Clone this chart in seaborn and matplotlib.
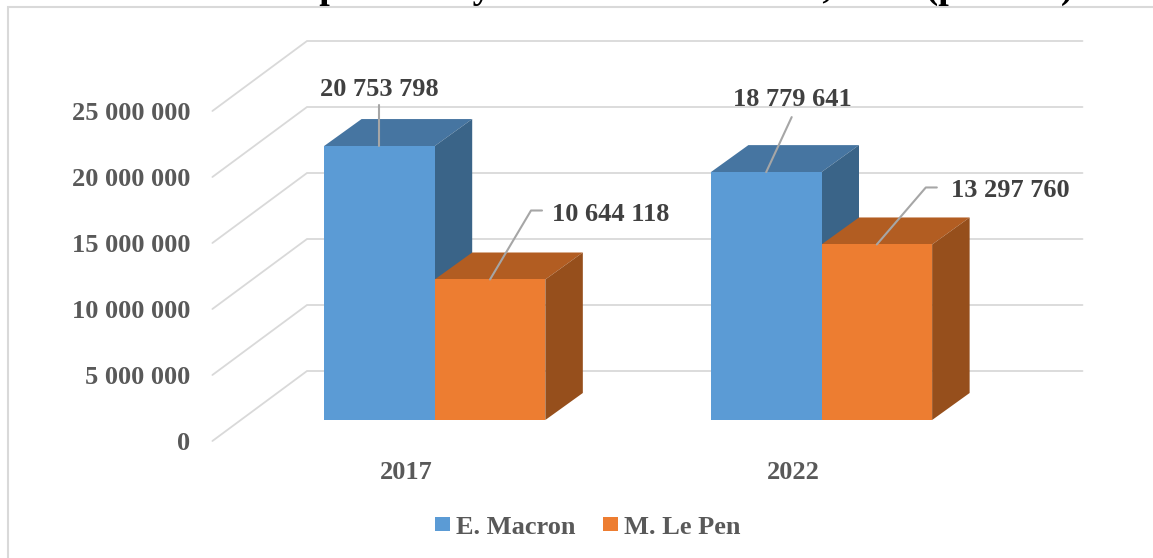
import matplotlib
matplotlib.use('Agg')
import matplotlib.pyplot as plt
from matplotlib.patches import Polygon
import seaborn as sns
import pandas as pd

# --- data ---
years = ['2017', '2022']
macron = [20753798, 18779641]
le_pen = [10644118, 13297760]
series = ['E. Macron', 'M. Le Pen']
y_ticks = [0, 5000000, 10000000, 15000000, 20000000, 25000000]
# only the descenders of the title are visible, the words are a best guess
title = 'Votes for the French presidency second round voters, 2022 (persons)'

df = pd.DataFrame({
    'year': years * 2,
    'candidate': [series[0]] * 2 + [series[1]] * 2,
    'votes': macron + le_pen,
})

# --- layout, in pixels of the 1153x558 image ---
W, H = 1153, 558
X0 = 434.7        # centre of first group
STEP = 386.8      # distance between groups
Y0 = 420          # pixel row of value 0 on the bar front plane
PX_PER_UNIT = 66 / 5000000
BAR_W = 0.572


def dx(px):
    return px / STEP


def dy(px):
    return px / PX_PER_UNIT


sns.set_style('white')
plt.rcParams['font.family'] = ['Liberation Serif', 'DejaVu Serif']
plt.rcParams['font.weight'] = 'bold'

fig = plt.figure(figsize=(W / 100, H / 100), dpi=100)
ax = fig.add_axes([0, 0, 1, 1])

palette = {series[0]: '#5B9BD5', series[1]: '#ED7D31'}
sns.barplot(data=df, x='year', y='votes', hue='candidate', palette=palette,
            width=BAR_W, gap=0, saturation=1, linewidth=0, errorbar=None,
            zorder=5, ax=ax)

ax.set_xlim(-X0 / STEP, (W - X0) / STEP)
ax.set_ylim(-dy(H - Y0), dy(Y0))
ax.axis('off')

# gridlines: wall at the back plus the diagonal on the side wall
wall_x0, wall_x1 = dx(307 - X0), dx(1082.5 - X0)
front_x0 = dx(212.4 - X0)
wall_shift, floor_shift = dy(Y0 - 371), dy(Y0 - 441)
for t in y_ticks:
    ax.plot([front_x0, wall_x0, wall_x1],
            [t + floor_shift, t + wall_shift, t + wall_shift],
            color='#D9D9D9', lw=1.3, zorder=1, solid_joinstyle='miter')
    label = f'{t:,}'.replace(',', ' ')
    ax.text(dx(190.5 - X0), t + floor_shift, label, ha='right', va='center_baseline',
            fontsize=19, color='#595959')

# 3D top and side faces of every bar
depth_x, depth_y = dx(37.5), dy(27)
tops = {series[0]: '#4675A1', series[1]: '#B25D22'}
sides = {series[0]: '#3A6488', series[1]: '#964F1C'}
w = BAR_W / 2
for i in range(len(years)):
    for s, vals, left in [(series[0], macron, i - w), (series[1], le_pen, i)]:
        v = vals[i]
        r = left + w
        ax.add_patch(Polygon([(left, v), (r, v), (r + depth_x, v + depth_y),
                              (left + depth_x, v + depth_y)],
                             fc=tops[s], ec='none', zorder=3))
        ax.add_patch(Polygon([(r, 0), (r + depth_x, depth_y),
                              (r + depth_x, v + depth_y), (r, v)],
                             fc=sides[s], ec='none', zorder=3))

# value labels with leader lines (pixel offsets from the top of the bar front)
leaders = [
    (macron[0], 0 - w / 2, [(0, 0), (0, 41)], (0, 59), 'center'),
    (le_pen[0], 0 + w / 2, [(0, 0), (41, 69), (52, 69)], (62, 67), 'left'),
    (macron[1], 1 - w / 2, [(0, 0), (25.5, 55)], (26, 75), 'center'),
    (le_pen[1], 1 + w / 2, [(0, 0), (49, 57), (60, 57)], (74, 56), 'left'),
]
for v, x, path, txt, ha in leaders:
    ax.plot([x + dx(p[0]) for p in path], [v + dy(p[1]) for p in path],
            color='#A6A6A6', lw=1.5, zorder=6)
    ax.text(x + dx(txt[0]), v + dy(txt[1]), f'{v:,}'.replace(',', ' '), ha=ha,
            va='center_baseline', fontsize=19, color='#404040', zorder=7)

# category labels sit on the floor, left of the bar centres
for i, year in enumerate(years):
    ax.text(i + dx(-28), dy(Y0 - 470), year, ha='center', va='center_baseline',
            fontsize=19, color='#595959')

# chart frame and clipped title from the page
ax.plot([dx(8.4 - X0), dx(8.4 - X0), dx(W - X0)],
        [dy(Y0 - H), dy(Y0 - 7), dy(Y0 - 7)],
        color='#D9D9D9', lw=1.5, zorder=1, solid_joinstyle='miter')
ax.text(dx(1073 - X0), dy(Y0 + 2), title, ha='right', va='baseline',
        fontsize=27, color='black', zorder=8)

handles, labels = ax.get_legend_handles_labels()
ax.legend(handles, labels, loc='center', bbox_to_anchor=(588 / W, 1 - 527 / H),
          ncol=2, frameon=False, fontsize=19, labelcolor='#595959',
          handlelength=0.55, handleheight=0.47, handletextpad=0.23, columnspacing=1.06)

fig.savefig('out.png', dpi=100)
